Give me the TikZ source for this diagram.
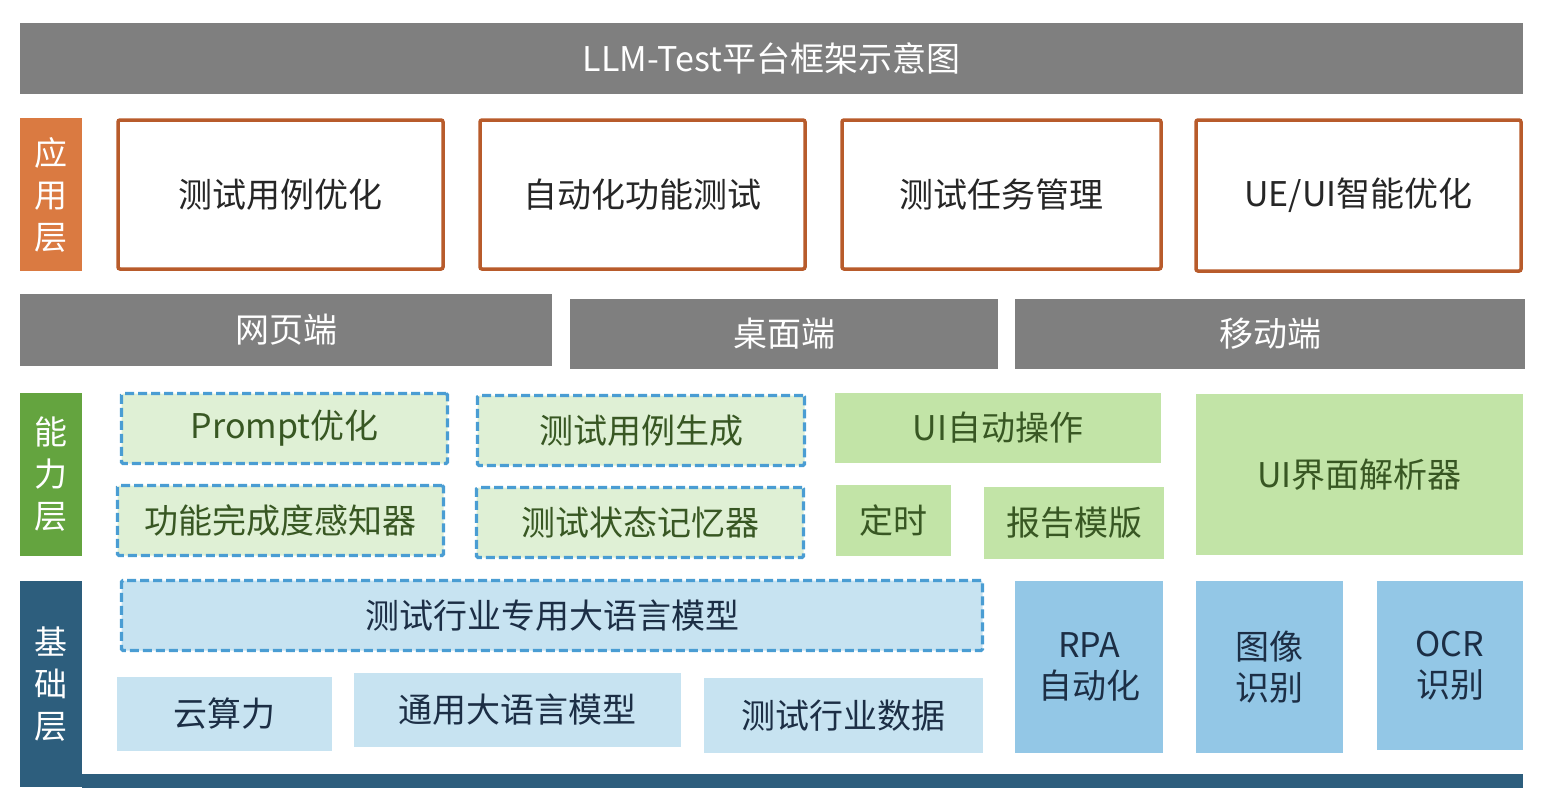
\documentclass[tikz,border=0pt]{standalone}
\usepackage{fontspec}
\setmainfont{Noto Sans CJK SC}
\definecolor{barGray}{HTML}{7F7F7F}
\definecolor{appOrange}{HTML}{DA7A41}
\definecolor{appBorder}{HTML}{B85B2B}
\definecolor{capGreen}{HTML}{64A43F}
\definecolor{lightGreen}{HTML}{DFF0D5}
\definecolor{solidGreen}{HTML}{C2E4A7}
\definecolor{dashBlue}{HTML}{4A9DD3}
\definecolor{baseNavy}{HTML}{2D5E7D}
\definecolor{lightBlue}{HTML}{C7E3F1}
\definecolor{midBlue}{HTML}{93C7E6}
\definecolor{greenText}{HTML}{385723}
\definecolor{navyText}{HTML}{1C2E45}
\definecolor{darkText}{HTML}{262626}
\begin{document}
\begin{tikzpicture}[x=1pt,y=-1pt,
  every node/.style={inner sep=0pt, outer sep=0pt, align=center, font=\fontsize{34}{41}\selectfont},
  graybar/.style={fill=barGray, text=white},
  layerlabel/.style={text=white, font=\fontsize{33}{42}\selectfont},
  appbox/.style={draw=appBorder, line width=3.5pt, rounded corners=2pt, fill=white, text=darkText},
  dashgreen/.style={draw=dashBlue, fill=lightGreen, line width=3.2pt, dash pattern=on 9pt off 4pt, rounded corners=1.5pt, text=greenText},
  solidgreenbox/.style={fill=solidGreen, text=greenText},
  dashblue/.style={draw=dashBlue, fill=lightBlue, line width=3.2pt, dash pattern=on 9pt off 4pt, rounded corners=1.5pt, text=navyText},
  lightbluebox/.style={fill=lightBlue, text=navyText},
  midbluebox/.style={fill=midBlue, text=navyText}
]
\useasboundingbox (0,0) rectangle (1548,808);
% title
\node[graybar, minimum width=1503pt, minimum height=71pt] (title) at (771.5,58.5) {LLM-Test平台框架示意图};
% application layer
\node[layerlabel, fill=appOrange, minimum width=62pt, minimum height=153pt] (applabel) at (51,194.5) {应\\用\\层};
\node[appbox, minimum width=325pt, minimum height=149pt] (app1) at (280.5,194.5) {测试用例优化};
\node[appbox, minimum width=325pt, minimum height=149pt] (app2) at (642.5,194.5) {自动化功能测试};
\node[appbox, minimum width=319pt, minimum height=149pt] (app3) at (1001.5,194.5) {测试任务管理};
\node[appbox, minimum width=325pt, minimum height=151pt] (app4) at (1358.5,195.5) {UE/UI智能优化};
% platforms
\node[graybar, minimum width=532pt, minimum height=72pt] (web) at (286,330) {网页端};
\node[graybar, minimum width=428pt, minimum height=70pt] (desk) at (784,334) {桌面端};
\node[graybar, minimum width=510pt, minimum height=70pt] (mobile) at (1270,334) {移动端};
% capability layer
\node[layerlabel, fill=capGreen, minimum width=62pt, minimum height=163pt] (caplabel) at (51,474.5) {能\\力\\层};
\node[dashgreen, minimum width=326pt, minimum height=70pt] (prompt) at (284.5,428.5) {Prompt优化};
\node[dashgreen, minimum width=327pt, minimum height=70pt] (casegen) at (641,430.5) {测试用例生成};
\node[dashgreen, minimum width=326pt, minimum height=70pt] (funcaware) at (280.5,520.5) {功能完成度感知器};
\node[dashgreen, minimum width=327pt, minimum height=70pt] (statemem) at (640,522.5) {测试状态记忆器};
\node[solidgreenbox, minimum width=326pt, minimum height=70pt] (uiauto) at (998,428) {UI自动操作};
\node[solidgreenbox, minimum width=115pt, minimum height=71pt] (timer) at (893.5,520.5) {定时};
\node[solidgreenbox, minimum width=180pt, minimum height=72pt] (report) at (1074,523) {报告模版};
\node[solidgreenbox, minimum width=327pt, minimum height=161pt] (uiparser) at (1359.5,474.5) {UI界面解析器};
% base layer
\node[layerlabel, fill=baseNavy, minimum width=62pt, minimum height=206pt] (baselabel) at (51,684) {基\\础\\层};
\node[fill=baseNavy, minimum width=1441pt, minimum height=14pt] (basebar) at (802.5,781) {};
\node[dashblue, minimum width=861pt, minimum height=70pt] (llmspecial) at (552,615.5) {测试行业专用大语言模型};
\node[lightbluebox, minimum width=215pt, minimum height=74pt] (cloud) at (224.5,714) {云算力};
\node[lightbluebox, minimum width=327pt, minimum height=74pt] (general) at (517.5,710) {通用大语言模型};
\node[lightbluebox, minimum width=279pt, minimum height=75pt] (industry) at (843.5,715.5) {测试行业数据};
\node[midbluebox, minimum width=148pt, minimum height=172pt] (rpa) at (1089,667) {RPA\\自动化};
\node[midbluebox, minimum width=147pt, minimum height=172pt] (imgrec) at (1269.5,667) {图像\\识别};
\node[midbluebox, minimum width=146pt, minimum height=169pt] (ocr) at (1450,665.5) {OCR\\识别};
\end{tikzpicture}
\end{document}
